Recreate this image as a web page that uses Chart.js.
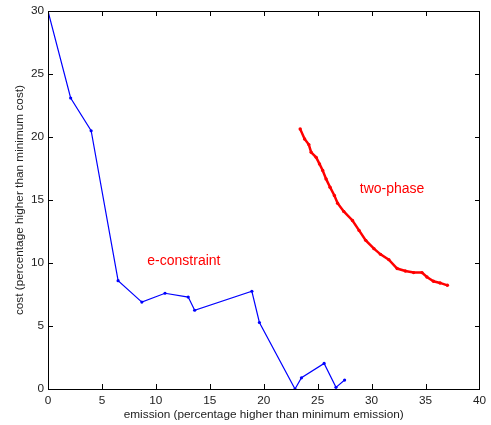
<!DOCTYPE html>
<html>
<head>
<meta charset="utf-8">
<script src="https://cdn.jsdelivr.net/npm/chart.js@4.4.0/dist/chart.umd.min.js"></script>
<style>
  body { margin: 0; }
  #wrap { position: relative; width: 491px; height: 425px; }
  .frameBit { position: absolute; background: #000; pointer-events: none; }
</style>
</head>
<body>
<div id="wrap"><canvas id="paretoChart" width="491" height="425"></canvas></div>
<script>
// e-constraint series (blue)
const epsEmission = [0, 2.1, 4.0, 6.5, 8.7, 10.85, 13.0, 13.6, 18.9, 19.6, 22.9, 23.5, 25.6, 26.7, 27.5];
const epsCost     = [30, 23.1, 20.5, 8.6, 6.9, 7.6, 7.3, 6.25, 7.76, 5.28, 0, 0.89, 2.03, 0.13, 0.71];

// two-phase series (red)
const twoEmission = [23.38, 23.79, 24.18, 24.4, 24.86, 25.17, 25.47, 25.78, 26.15, 26.55, 26.85, 27.42,
                     28.23, 28.84, 29.46, 30.22, 30.83, 31.6, 32.37, 33.13, 33.9, 34.67, 35.13, 35.74, 36.35, 37.03];
const twoCost     = [20.64, 19.85, 19.4, 18.79, 18.39, 17.87, 17.34, 16.68, 16.02, 15.36, 14.75, 14.1,
                     13.38, 12.59, 11.8, 11.14, 10.69, 10.27, 9.56, 9.37, 9.24, 9.24, 8.89, 8.55, 8.42, 8.23];

const xTicks = [0, 5, 10, 15, 20, 25, 30, 35, 40];
const yTicks = [0, 5, 10, 15, 20, 25, 30];

// in-plot text labels: [text, x, y]
const noteLabels = [
    ["e-constraint", 12.6, 10.15],
    ["two-phase", 31.9, 15.9]
];

function toPoints(xs, ys) {
    return xs.map((x, i) => ({ x: x, y: ys[i] }));
}

// list of [left, top, width, height] for the box and the inward ticks
function frameRects(chart) {
    const xs = chart.scales.x;
    const ys = chart.scales.y;
    const L = Math.round(xs.getPixelForValue(0));
    const R = Math.round(xs.getPixelForValue(40));
    const B = Math.round(ys.getPixelForValue(0));
    const T = Math.round(ys.getPixelForValue(30));
    const rects = [
        [L, T, R - L + 1, 1], [L, B, R - L + 1, 1],
        [L, T, 1, B - T + 1], [R, T, 1, B - T + 1]
    ];
    xTicks.forEach(v => {
        const px = Math.round(xs.getPixelForValue(v));
        rects.push([px, B - 5, 1, 5], [px, T, 1, 5]);
    });
    yTicks.forEach(v => {
        const py = Math.round(ys.getPixelForValue(v));
        rects.push([L, py, 5, 1], [R - 4, py, 5, 1]);
    });
    return rects;
}

const framePlugin = {
    id: 'framePlugin',
    afterDraw(chart) {
        const ctx = chart.ctx;
        const xs = chart.scales.x;
        const ys = chart.scales.y;
        ctx.save();
        ctx.fillStyle = '#000000';
        frameRects(chart).forEach(r => ctx.fillRect(r[0], r[1], r[2], r[3]));
        ctx.fillStyle = '#ff0000';
        ctx.font = '14px "Liberation Sans", Arial, sans-serif';
        ctx.textAlign = 'center';
        ctx.textBaseline = 'middle';
        noteLabels.forEach(n => {
            ctx.fillText(n[0], xs.getPixelForValue(n[1]), ys.getPixelForValue(n[2]));
        });
        ctx.restore();
    }
};

const tickFont = { family: '"Liberation Sans", Arial, sans-serif', size: 11.8 };

const chart = new Chart(document.getElementById('paretoChart'), {
    type: 'line',
    data: {
        datasets: [
            {
                label: 'e-constraint',
                data: toPoints(epsEmission, epsCost),
                borderColor: '#0000ff',
                backgroundColor: '#0000ff',
                borderWidth: 1.2,
                pointRadius: 1.6,
                pointBorderWidth: 0,
                tension: 0
            },
            {
                label: 'two-phase',
                data: toPoints(twoEmission, twoCost),
                borderColor: '#ff0000',
                backgroundColor: '#ff0000',
                borderWidth: 2.5,
                pointRadius: 1.7,
                pointBorderWidth: 0,
                tension: 0
            }
        ]
    },
    options: {
        responsive: false,
        animation: false,
        layout: { padding: { top: 10, right: 8, left: 0, bottom: 0 } },
        plugins: {
            legend: { display: false },
            tooltip: { enabled: false }
        },
        scales: {
            x: {
                type: 'linear',
                min: 0, max: 40,
                grid: { display: false, drawTicks: false },
                border: { display: false },
                afterBuildTicks(s) { s.ticks = xTicks.map(v => ({ value: v })); },
                afterFit(s) { s.height = 36; },
                ticks: { color: '#222', font: tickFont, padding: 5, maxRotation: 0 },
                title: {
                    display: true,
                    text: 'emission (percentage higher than minimum emission)',
                    color: '#222',
                    font: tickFont,
                    padding: { top: 0, bottom: 3 }
                }
            },
            y: {
                type: 'linear',
                min: 0, max: 30,
                grid: { display: false, drawTicks: false },
                border: { display: false },
                afterBuildTicks(s) { s.ticks = yTicks.map(v => ({ value: v })); },
                afterFit(s) { s.width = 48; },
                ticks: { color: '#222', font: tickFont, padding: 4 },
                title: {
                    display: true,
                    text: 'cost (percentage higher than minimum cost)',
                    color: '#222',
                    font: tickFont,
                    padding: { top: 13, bottom: 0 }
                }
            }
        }
    },
    plugins: [framePlugin]
});

// same box laid over the canvas as thin page elements, placed from the chart's scales
const wrap = document.getElementById('wrap');
frameRects(chart).forEach(r => {
    const d = document.createElement('div');
    d.className = 'frameBit';
    d.style.left = r[0] + 'px';
    d.style.top = r[1] + 'px';
    d.style.width = r[2] + 'px';
    d.style.height = r[3] + 'px';
    wrap.appendChild(d);
});
</script>
</body>
</html>
